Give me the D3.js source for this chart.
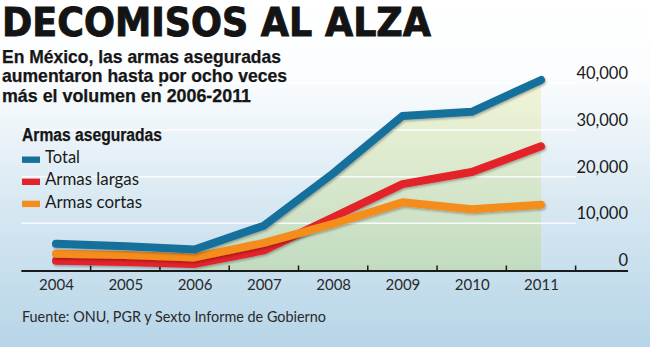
<!DOCTYPE html>
<html>
<head>
<meta charset="utf-8">
<script src="https://cdn.jsdelivr.net/npm/d3@7"></script>
<style>
  html, body { margin: 0; padding: 0; background: #fff; }
  svg { display: block; }
</style>
</head>
<body>
<svg id="chart" width="650" height="349"></svg>
<script>
// ---- data ----
const years = ["2004", "2005", "2006", "2007", "2008", "2009", "2010", "2011"];
const total = [5600, 5100, 4400, 9500, 20700, 33000, 33900, 40700];
const armasLargas = [2000, 1700, 1300, 4200, 11300, 18400, 21000, 26500];
const armasCortas = [3500, 3200, 2700, 5800, 9900, 14500, 13000, 14000];
const seriesNames = ["Total", "Armas largas", "Armas cortas"];
const seriesColors = ["#17709c", "#e3222a", "#f58d1f"];
const yTicks = [0, 10000, 20000, 30000, 40000];
const title = "DECOMISOS AL ALZA";
const subtitle = ["En México, las armas aseguradas", "aumentaron hasta por ocho veces", "más el volumen en 2006-2011"];
const legendTitle = "Armas aseguradas";
const source = "Fuente: ONU, PGR y Sexto Informe de Gobierno";
const areaStart = "2006";

const svg = d3.select("#chart");
const W = 650, H = 349;

const defs = svg.append("defs");
const bg = defs.append("linearGradient").attr("id", "bg").attr("x1", 0).attr("y1", 0).attr("x2", 0).attr("y2", 1);
bg.append("stop").attr("offset", "0%").attr("stop-color", "#ffffff");
bg.append("stop").attr("offset", "22%").attr("stop-color", "#fbfdfe");
bg.append("stop").attr("offset", "55%").attr("stop-color", "#dbeaf3");
bg.append("stop").attr("offset", "100%").attr("stop-color", "#b6d5e8");

const ag = defs.append("linearGradient").attr("id", "area").attr("gradientUnits", "userSpaceOnUse")
  .attr("x1", 0).attr("y1", 80).attr("x2", 0).attr("y2", 270);
ag.append("stop").attr("offset", "0%").attr("stop-color", "#f2f5d8");
ag.append("stop").attr("offset", "100%").attr("stop-color", "#c1dbc1");

const sh = defs.append("filter").attr("id", "shadow").attr("x", "-10%").attr("y", "-10%").attr("width", "120%").attr("height", "130%");
sh.append("feDropShadow").attr("dx", 1).attr("dy", 1.5).attr("stdDeviation", 1).attr("flood-color", "#000").attr("flood-opacity", 0.3);

svg.append("rect").attr("width", W).attr("height", 347).attr("fill", "url(#bg)");

// scales
const x = d3.scalePoint().domain(years).range([56, 541]);
const step = x.step();
const y = d3.scaleLinear().domain([0, 40000]).range([270, 83.3]);

function fit(sel, w) {
  sel.attr("textLength", w).attr("lengthAdjust", "spacingAndGlyphs");
}

// title
svg.append("text").attr("x", 2).attr("y", 35.5)
  .attr("font-family", "'Liberation Sans Narrow', 'DejaVu Sans Condensed', sans-serif")
  .attr("font-weight", "bold").attr("font-size", 39.5).attr("fill", "#141414")
  .attr("stroke", "#141414").attr("stroke-width", 0.9)
  .text(title).call(fit, 429);

const subW = [279, 285, 249];
subtitle.forEach((s, i) => {
  svg.append("text").attr("x", 2).attr("y", 62.5 + i * 19.6)
    .attr("font-family", "'Liberation Sans Narrow', sans-serif")
    .attr("font-weight", "bold").attr("font-size", 18.5).attr("fill", "#161616")
    .attr("stroke", "#161616").attr("stroke-width", 0.25)
    .text(s).call(fit, subW[i]);
});

// area
const areaIdx = years.indexOf(areaStart);
const areaData = years.map((yr, i) => ({ yr, v: total[i] })).slice(areaIdx);
svg.append("path").datum(areaData)
  .attr("fill", "url(#area)")
  .attr("d", d3.area().x(d => x(d.yr)).y0(y(0)).y1(d => y(d.v)));

// gridlines
svg.append("g").selectAll("line").data(yTicks.slice(1)).join("line")
  .attr("x1", x(years[0]) - step / 2).attr("x2", x(years[years.length - 1]) + step / 2)
  .attr("y1", d => y(d)).attr("y2", d => y(d))
  .attr("stroke", "#ffffff").attr("stroke-width", 1.5).attr("stroke-opacity", 0.85);

// y labels
svg.append("g").selectAll("text").data(yTicks).join("text")
  .attr("x", 628).attr("y", d => y(d) - 4)
  .attr("text-anchor", "end")
  .attr("font-family", "Lato, sans-serif").attr("font-size", 16.5).attr("fill", "#1a1a1a")
  .text(d => d3.format(",")(d));

// axis
const axisY = y(0);
svg.append("line").attr("x1", x(years[0]) - step / 2).attr("x2", 628)
  .attr("y1", axisY + 1).attr("y2", axisY + 1).attr("stroke", "#1a1a1a").attr("stroke-width", 2);
svg.append("g").selectAll("line").data(years).join("line")
  .attr("x1", d => x(d) + step / 2).attr("x2", d => x(d) + step / 2)
  .attr("y1", axisY - 4.5).attr("y2", axisY).attr("stroke", "#1a1a1a").attr("stroke-width", 1.5);

const xAxis = svg.append("g").attr("transform", `translate(0,${axisY})`)
  .call(d3.axisBottom(x).tickSize(0).tickPadding(9));
xAxis.select(".domain").remove();
xAxis.selectAll("text").attr("font-family", "Lato, sans-serif").attr("font-size", 15).attr("fill", "#2a2a2a");

// lines
const seriesValues = [total, armasLargas, armasCortas];
const line = d3.line().x(d => x(d.yr)).y(d => y(d.v));
[1, 2, 0].forEach(k => {
  const data = years.map((yr, i) => ({ yr, v: seriesValues[k][i] }));
  svg.append("path").datum(data)
    .attr("fill", "none").attr("stroke", seriesColors[k]).attr("stroke-width", 8)
    .attr("stroke-linecap", "round").attr("stroke-linejoin", "round")
    .attr("filter", "url(#shadow)")
    .attr("d", line);
});

// legend
svg.append("text").attr("x", 22).attr("y", 140.7)
  .attr("font-family", "'Liberation Sans Narrow', sans-serif").attr("font-weight", "bold")
  .attr("font-size", 17.5).attr("fill", "#161616").attr("stroke", "#161616").attr("stroke-width", 0.25)
  .text(legendTitle).call(fit, 140);
const legW = [35, 94, 97];
seriesNames.forEach((n, i) => {
  const by = 163.3 + i * 22.1;
  svg.append("rect").attr("x", 22).attr("y", by - 6.8).attr("width", 18).attr("height", 6.4)
    .attr("fill", seriesColors[i]);
  svg.append("text").attr("x", 45).attr("y", by)
    .attr("font-family", "Lato, sans-serif").attr("font-size", 17).attr("fill", "#1a1a1a")
    .text(n).call(fit, legW[i]);
});

// source
svg.append("text").attr("x", 22).attr("y", 322.3)
  .attr("font-family", "Lato, sans-serif").attr("font-size", 16).attr("fill", "#2a2a2a")
  .text(source).call(fit, 304);
</script>
</body>
</html>
